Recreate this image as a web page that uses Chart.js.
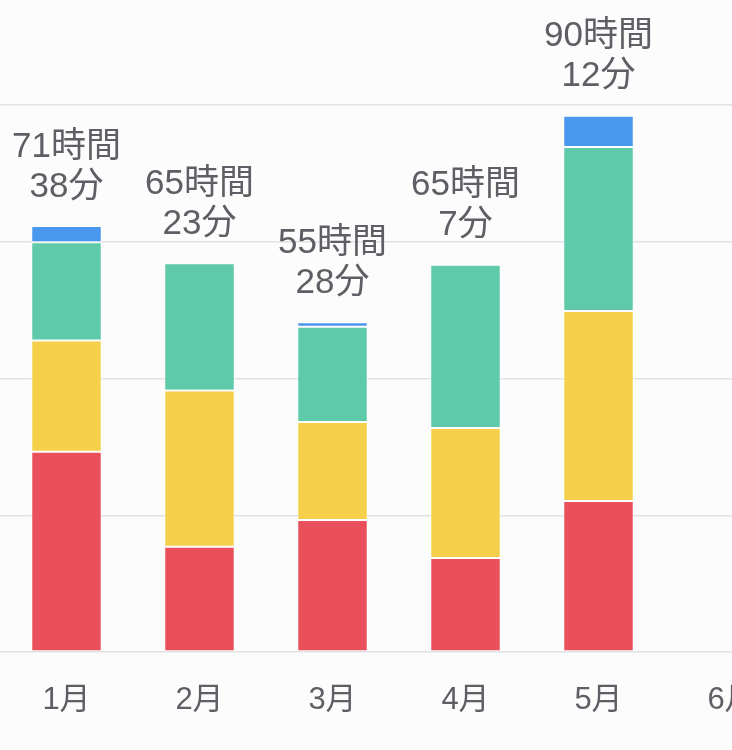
<!DOCTYPE html>
<html>
<head>
<meta charset="utf-8">
<script src="https://cdn.jsdelivr.net/npm/chart.js@4"></script>
<style>
  html, body { margin: 0; padding: 0; background: #fcfcfc; overflow: hidden; }
  #wrap { position: relative; width: 798px; height: 750px; }
</style>
</head>
<body>
<div id="wrap"><canvas id="myChart"></canvas></div>
<script>
// months and minutes per category (bottom to top: red, yellow, teal, blue)
let months = ['1月', '2月', '3月', '4月', '5月', '6月'];

let redData = [2022, 1062, 1332, 949, 1524, null];
let yellowData = [1122, 1578, 989, 1312, 1917, null];
let tealData = [990, 1283, 960, 1646, 1655, null];
let blueData = [164, 0, 47, 0, 316, null];

let colors = ['#e9505c', '#f6d04a', '#5ecaaa', '#4a97ef'];

let textColor = '#5e5e64';
let fontFamily = '"Liberation Sans", "Noto Sans CJK JP", sans-serif';

// total label above each bar, e.g. 71時間 / 38分
const totalLabels = {
    id: 'totalLabels',
    afterDatasetsDraw(chart) {
        const ctx = chart.ctx;
        const yScale = chart.scales.y;
        const meta = chart.getDatasetMeta(0);
        ctx.save();
        ctx.fillStyle = textColor;
        ctx.font = '35px ' + fontFamily;
        ctx.textAlign = 'center';
        ctx.textBaseline = 'middle';
        months.forEach((m, i) => {
            const total = (redData[i] || 0) + (yellowData[i] || 0) + (tealData[i] || 0) + (blueData[i] || 0);
            if (!total) return;
            const x = meta.data[i].x;
            const top = yScale.getPixelForValue(total);
            const h = Math.floor(total / 60);
            const min = total % 60;
            ctx.fillText(h + '時間', x, top - 79);
            ctx.fillText(min + '分', x, top - 39);
        });
        ctx.restore();
    }
};

let myChart = document.getElementById('myChart').getContext('2d');

let chart = new Chart(myChart, {
    type: 'bar',
    data: {
        labels: months,
        datasets: [
            { data: redData, backgroundColor: colors[0] },
            { data: yellowData, backgroundColor: colors[1] },
            { data: tealData, backgroundColor: colors[2] },
            { data: blueData, backgroundColor: colors[3] }
        ].map(d => Object.assign(d, {
            borderColor: 'rgba(255,255,255,0.7)',
            borderWidth: 1,
            borderSkipped: false,
            barPercentage: 0.53,
            categoryPercentage: 1
        }))
    },
    options: {
        responsive: true,
        maintainAspectRatio: false,
        animation: false,
        layout: {
            padding: { top: 105, left: 0, right: 0, bottom: 0 }
        },
        plugins: {
            legend: { display: false },
            tooltip: { enabled: false }
        },
        scales: {
            x: {
                stacked: true,
                afterFit(scale) { scale.height = 98; },
                grid: { display: false, drawTicks: false },
                border: { display: false },
                ticks: {
                    color: textColor,
                    font: { size: 31, family: fontFamily },
                    padding: 30,
                    maxRotation: 0,
                    autoSkip: false
                }
            },
            y: {
                stacked: true,
                min: 0,
                max: 5520,
                afterFit(scale) { scale.width = 0; },
                grid: { color: '#e2e2e5', lineWidth: 1.5, drawTicks: false },
                border: { display: false },
                ticks: { display: false, stepSize: 1380 }
            }
        }
    },
    plugins: [totalLabels]
});
</script>
</body>
</html>
